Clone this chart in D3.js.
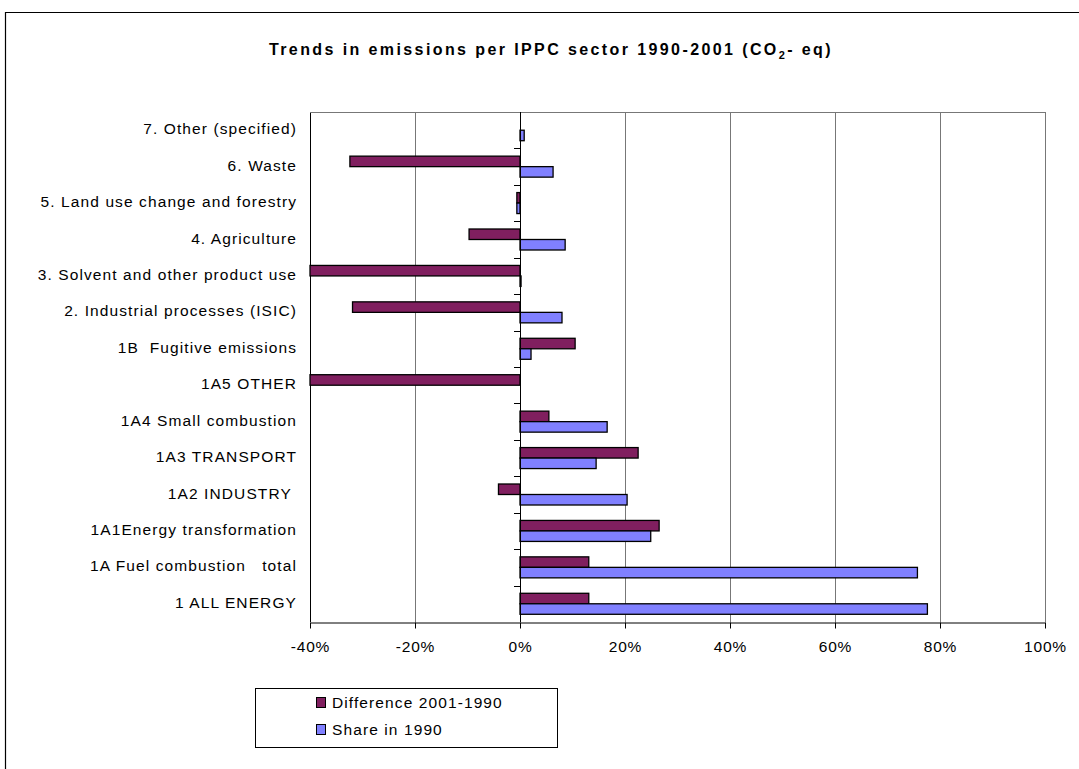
<!DOCTYPE html>
<html><head><meta charset="utf-8">
<script src="https://cdn.jsdelivr.net/npm/d3@7"></script>
<style>body{margin:0;background:#fff;} text{font-family:"Liberation Sans",Arial,sans-serif;white-space:pre;}</style>
</head><body>
<svg id="chart" width="1079" height="769"></svg>
<script>
const categories = ["7. Other (specified)","6. Waste","5. Land use change and forestry","4. Agriculture","3. Solvent and other product use","2. Industrial processes (ISIC)","1B  Fugitive emissions","1A5 OTHER","1A4 Small combustion","1A3 TRANSPORT","1A2 INDUSTRY ","1A1Energy transformation","1A Fuel combustion   total","1 ALL ENERGY"];
const difference = [0, -32.4, -0.6, -9.7, -41, -31.9, 10.5, -41, 5.5, 22.5, -4.1, 26.5, 13.1, 13.1];
const share1990 = [0.8, 6.3, -0.6, 8.6, 0.2, 8.0, 2.1, 0, 16.6, 14.5, 20.4, 24.9, 75.7, 77.6];
const xTicks = [-40,-20,0,20,40,60,80,100];
const seriesNames = ["Difference 2001-1990","Share in 1990"];
const colors = ["#801F5F","#8080FF"];

const svg = d3.select("#chart");
const L=310, R=1045, T=112, B=622;
const x = d3.scaleLinear().domain([-40,100]).range([L,R]).clamp(true);
const y = d3.scaleBand().domain(categories).range([T,B]);
const barH = 10.5;

// outer frame
svg.append("path").attr("d","M5.5,769 L5.5,12.5 L1079,12.5").attr("fill","none").attr("stroke","#000").attr("stroke-width",1.2);

// title
const title = svg.append("text").attr("x",551).attr("y",55).attr("text-anchor","middle")
  .attr("font-size",16).attr("letter-spacing",2.4).attr("font-weight","bold").attr("fill","#000");
title.append("tspan").text("Trends in emissions per IPPC sector 1990-2001 (CO");
title.append("tspan").text("2").attr("font-size",11).attr("dy",4);
title.append("tspan").text("- eq)").attr("dy",-4);

// gridlines
svg.append("g").selectAll("line").data(xTicks.filter(d=>d!==0)).join("line")
  .attr("x1",d=>Math.round(x(d))+0.5).attr("x2",d=>Math.round(x(d))+0.5)
  .attr("y1",T).attr("y2",B).attr("stroke",d=>d===-40?"#000":"#777").attr("stroke-width",1);
svg.append("line").attr("x1",L).attr("x2",R).attr("y1",T+0.5).attr("y2",T+0.5).attr("stroke","#777");

// bars
const g = svg.append("g");
const series = [difference, share1990];
series.forEach((vals,si)=>{
  g.selectAll(null).data(categories).join("rect")
    .attr("x",(d,i)=>Math.min(x(0),x(vals[i])))
    .attr("width",(d,i)=>Math.abs(x(vals[i])-x(0)))
    .attr("y",d=>y(d)+y.bandwidth()/2-barH+si*barH)
    .attr("height",barH)
    .attr("fill",colors[si]).attr("stroke","#000").attr("stroke-width",1.3)
    .attr("display",(d,i)=>vals[i]===0?"none":null);
});

// category axis at 0 with ticks at band boundaries
svg.append("g").selectAll("line").data(categories.slice(1)).join("line")
  .attr("x1",x(0)-6).attr("x2",x(0)).attr("y1",d=>Math.round(y(d))+0.5).attr("y2",d=>Math.round(y(d))+0.5)
  .attr("stroke","#000");
svg.append("line").attr("x1",Math.round(x(0))+0.5).attr("x2",Math.round(x(0))+0.5).attr("y1",T).attr("y2",B).attr("stroke","#000");

// category labels
svg.append("g").selectAll("text").data(categories).join("text")
  .attr("x",297).attr("y",d=>y(d)+y.bandwidth()/2).attr("text-anchor","end")
  .attr("dominant-baseline","middle").attr("font-size",15.5).attr("letter-spacing",1.1)
  .attr("fill","#000").text(d=>d);

// x axis
const xa = svg.append("g").attr("transform",`translate(0,${B+0.5})`)
  .call(d3.axisBottom(x).tickValues(xTicks).tickSize(6).tickSizeOuter(0).tickFormat(d=>d+"%"));
xa.select(".domain").attr("stroke","#000");
xa.selectAll(".tick line").attr("stroke","#000");
xa.selectAll(".tick text").attr("font-size",15.5).attr("letter-spacing",0.8).attr("dy",0).attr("y",29).attr("fill","#000")
  .attr("font-family","'Liberation Sans',Arial,sans-serif");

// legend
const lg = svg.append("g");
lg.append("rect").attr("x",255.5).attr("y",688.5).attr("width",302).attr("height",59).attr("fill","#fff").attr("stroke","#000");
seriesNames.forEach((n,i)=>{
  lg.append("rect").attr("x",316.5).attr("y",697.5+i*27).attr("width",9).attr("height",10).attr("fill",colors[i]).attr("stroke","#000");
  lg.append("text").attr("x",332).attr("y",708+i*27).attr("font-size",15.5).attr("letter-spacing",1.1).attr("fill","#000").text(n);
});
</script>
</body></html>
